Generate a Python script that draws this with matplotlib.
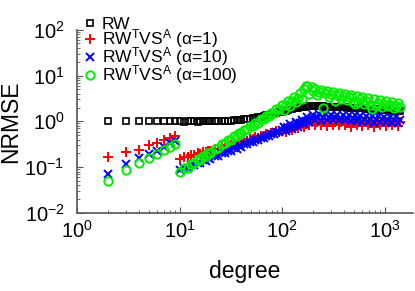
import numpy as np
import matplotlib
matplotlib.use("Agg")
import matplotlib.pyplot as plt

plt.rcParams["font.family"] = ["Liberation Sans", "DejaVu Sans"]
plt.rcParams["mathtext.fontset"] = "custom"
plt.rcParams["mathtext.rm"] = "Liberation Sans"
plt.rcParams["mathtext.it"] = "Liberation Sans"
plt.rcParams["mathtext.bf"] = "Liberation Sans:bold"

# node degree: isolated low degrees, then the dense part of the curve
deg_low = [2, 3, 4, 5, 6, 7, 8, 9]
deg_mid = [10, 11, 12, 13, 14, 15, 16, 17, 18, 19, 20, 22, 24, 26, 28, 30,
           32, 34, 36, 38, 40, 43, 46, 49, 52, 55, 58, 62, 66, 70, 74, 78,
           83, 88, 94]
deg_high = [100, 105, 109, 114, 119, 125, 130, 136, 142, 149, 155, 162, 170,
            177, 185, 194, 202, 211, 221, 231, 241, 252, 264, 276, 288, 301,
            314, 328, 343, 359, 375, 392, 409, 428, 447, 467, 488, 510, 533,
            557, 582, 608, 636, 664, 694, 725, 758, 792, 828, 865, 904, 945,
            987, 1032, 1078, 1127, 1177, 1230, 1286, 1344, 1400]

# NRMSE, RW
rw_low = [1.0, 1.0, 1.0, 1.0, 1.0, 1.0, 1.0, 1.0]
rw_mid = [1.0, 0.98, 1.02, 1.0, 1.01, 0.99, 1.02, 1.0, 1.03, 1.0, 1.02,
          1.01, 1.03, 1.02, 1.04, 1.03, 1.04, 1.05, 1.06, 1.07, 1.08, 1.1,
          1.13, 1.15, 1.17, 1.2, 1.23, 1.27, 1.31, 1.35, 1.39, 1.43, 1.48,
          1.53, 1.59]
rw_high = [1.63, 1.68, 1.72, 1.77, 1.82, 1.87, 1.91, 1.95, 1.99, 2.02, 2.05,
           2.08, 2.1, 2.12, 2.13, 2.14, 2.14, 2.14, 2.13, 2.13, 2.12, 2.11,
           2.1, 2.1, 2.09, 2.08, 2.07, 2.06, 2.05, 2.04, 2.03, 2.02, 2.01,
           2.0, 1.99, 1.98, 1.97, 1.96, 1.95, 1.94, 1.93, 1.92, 1.91, 1.9,
           1.89, 1.88, 1.86, 1.85, 1.84, 1.82, 1.81, 1.8, 1.78, 1.77, 1.75,
           1.74, 1.72, 1.71, 1.69, 1.67, 1.66]

# NRMSE, RW^T VS^A (alpha=1)
a1_low = [0.165, 0.21, 0.24, 0.31, 0.33, 0.39, 0.43, 0.49]
a1_mid = [0.15, 0.163, 0.164, 0.182, 0.181, 0.199, 0.197, 0.215, 0.212,
          0.231, 0.227, 0.253, 0.254, 0.282, 0.28, 0.308, 0.304, 0.334,
          0.328, 0.358, 0.35, 0.387, 0.382, 0.42, 0.413, 0.452, 0.443, 0.487,
          0.48, 0.526, 0.516, 0.563, 0.555, 0.607, 0.6]
a1_high = [0.64, 0.71, 0.59, 0.7, 0.77, 0.65, 0.76, 0.84, 0.7, 0.82, 0.91,
           0.74, 0.89, 0.99, 0.83, 0.95, 1.04, 0.82, 0.97, 1.05, 0.85, 0.97,
           1.05, 0.8, 0.97, 1.04, 0.84, 0.96, 1.04, 0.82, 0.96, 1.04, 0.84,
           0.96, 1.04, 0.77, 0.96, 1.04, 0.84, 0.96, 1.03, 0.78, 0.95, 1.03,
           0.84, 0.95, 1.03, 0.76, 0.95, 1.03, 0.84, 0.95, 1.03, 0.81, 0.95,
           1.03, 0.84, 0.95, 1.03, 0.81, 0.95]

# NRMSE, RW^T VS^A (alpha=10)
a10_low = [0.072, 0.12, 0.16, 0.195, 0.23, 0.27, 0.33, 0.38]
a10_mid = [0.085, 0.096, 0.097, 0.111, 0.111, 0.126, 0.125, 0.14, 0.139,
           0.155, 0.152, 0.176, 0.179, 0.204, 0.205, 0.231, 0.23, 0.258,
           0.255, 0.285, 0.28, 0.318, 0.316, 0.356, 0.353, 0.395, 0.388,
           0.44, 0.435, 0.49, 0.48, 0.54, 0.532, 0.6, 0.595]
a10_high = [0.64, 0.77, 0.61, 0.72, 0.86, 0.69, 0.81, 0.97, 0.77, 0.92,
            1.09, 0.87, 1.03, 1.23, 0.99, 1.16, 1.38, 1.07, 1.24, 1.44, 1.0,
            1.25, 1.43, 1.09, 1.23, 1.41, 1.07, 1.22, 1.39, 1.06, 1.2, 1.38,
            1.05, 1.19, 1.36, 1.04, 1.17, 1.35, 1.02, 1.16, 1.32, 0.98, 1.14,
            1.31, 0.99, 1.13, 1.29, 0.92, 1.11, 1.28, 0.97, 1.1, 1.25, 0.96,
            1.08, 1.24, 0.94, 1.07, 1.22, 0.93, 1.05]

# NRMSE, RW^T VS^A (alpha=100)
a100_low = [0.051, 0.085, 0.124, 0.157, 0.19, 0.24, 0.27, 0.32]
a100_mid = [0.078, 0.094, 0.097, 0.118, 0.122, 0.148, 0.146, 0.175, 0.174,
            0.204, 0.202, 0.254, 0.262, 0.32, 0.33, 0.395, 0.395, 0.47, 0.47,
            0.55, 0.545, 0.66, 0.665, 0.79, 0.8, 0.93, 0.925, 1.11, 1.11,
            1.32, 1.31, 1.54, 1.55, 1.82, 1.85]
a100_high = [2.31, 1.8, 2.25, 2.78, 2.14, 2.75, 3.36, 2.61, 3.3, 4.08, 3.14,
             5.2, 6.0, 5.8, 4.0, 5.5, 4.54, 5.17, 3.69, 4.3, 4.9, 1.95, 4.1,
             4.65, 3.33, 3.89, 4.42, 2.77, 3.7, 4.2, 3.0, 3.5, 4.0, 2.86,
             3.33, 3.8, 2.71, 2.4, 3.6, 2.58, 3.0, 3.42, 2.45, 2.85, 3.25,
             2.32, 1.9, 3.09, 2.21, 2.57, 2.93, 2.1, 2.44, 2.78, 2.12, 2.32,
             2.64, 2.0, 2.2, 2.5, 2.03]

labels = ["RW",
          r"RW$^\mathrm{T}$VS$^\mathrm{A}$ ($\alpha$=1)",
          r"RW$^\mathrm{T}$VS$^\mathrm{A}$ ($\alpha$=10)",
          r"RW$^\mathrm{T}$VS$^\mathrm{A}$ ($\alpha$=100)"]

degree = deg_low + deg_mid + deg_high
rw = rw_low + rw_mid + rw_high
a1 = a1_low + a1_mid + a1_high
a10 = a10_low + a10_mid + a10_high
a100 = a100_low + a100_mid + a100_high

fig = plt.figure(figsize=(4.15, 2.91), dpi=100)
ax = fig.add_axes([0.1855, 0.268, 0.81, 0.63])

ax.plot(degree, rw, ls="none", marker="s", ms=5, mfc="none", mec="black",
        mew=1.2, label=labels[0])
ax.plot(degree, a1, ls="none", marker="+", ms=7, mec="red", mew=1.4,
        label=labels[1])
ax.plot(degree, a10, ls="none", marker="x", ms=5.5, mec="blue", mew=1.4,
        label=labels[2])
ax.plot(degree, a100, ls="none", marker="o", ms=6, mfc="none",
        mec="#00ee00", mew=1.4, label=labels[3])

ax.set_xscale("log")
ax.set_yscale("log")
ax.set_xlim(1, 1900)
ax.set_ylim(1e-2, 1e2)

for s in ["top", "right"]:
    ax.spines[s].set_visible(False)
for s in ["left", "bottom"]:
    ax.spines[s].set_color("#555555")
    ax.spines[s].set_linewidth(1.2)

ax.tick_params(which="both", direction="in", colors="#555555",
               labelcolor="black", top=False, right=False)
ax.tick_params(which="major", length=4, labelsize=14.5)
ax.tick_params(which="minor", length=2)
ax.tick_params(axis="x", pad=5)
ax.tick_params(axis="y", pad=9)

ax.set_xlabel("degree", fontsize=16.5, labelpad=13)
ax.set_ylabel("NRMSE", fontsize=16.5, labelpad=2)

fig.legend(loc="upper left", bbox_to_anchor=(0.183, 0.965), frameon=False,
           fontsize=12.5, handlelength=0.8, handletextpad=0.3,
           labelspacing=-0.28, borderaxespad=0)

fig.savefig("out.png", dpi=100)
